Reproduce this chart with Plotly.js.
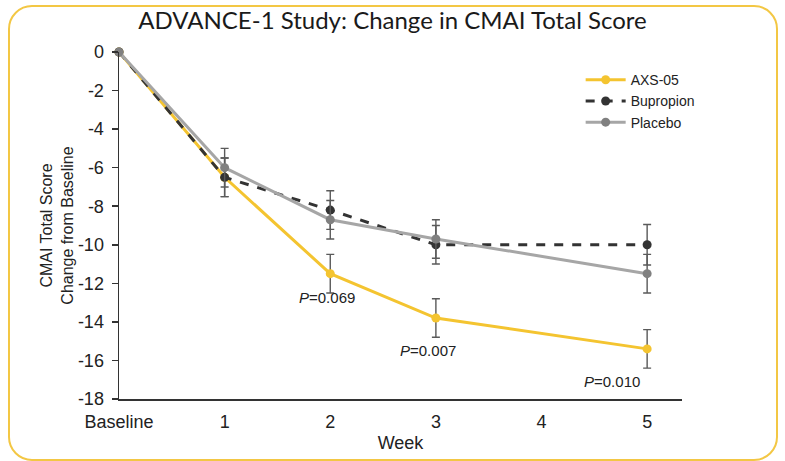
<!DOCTYPE html>
<html>
<head>
<meta charset="utf-8">
<script src="https://cdn.plot.ly/plotly-3.0.1.min.js"></script>
<style>
  html, body { margin: 0; padding: 0; background: #ffffff; }
  #wrap { position: relative; width: 785px; height: 461px; overflow: hidden; }
  #chart { width: 785px; height: 461px; }
  #frame { position: absolute; left: 8px; top: 5px; width: 770px; height: 456px;
           border: 2.5px solid #F3C744; border-radius: 24px; pointer-events: none; box-sizing: border-box; }
</style>
</head>
<body>
<div id="wrap">
  <div id="chart"></div>
  <div id="frame"></div>
</div>
<script>
// ---- data ----
const weeks = [0, 1, 2, 3, 5];
const tickVals = [0, 1, 2, 3, 4, 5];
const tickLabels = ["Baseline", "1", "2", "3", "4", "5"];
const yTickVals = [0, -2, -4, -6, -8, -10, -12, -14, -16, -18];
const yTickLabels = ["0", "-2", "-4", "-6", "-8", "-10", "-12", "-14", "-16", "-18"];

const axs05 = [0, -6.5, -11.5, -13.8, -15.4];
const axs05Err = [0, 1.0, 1.0, 1.0, 1.0];

const bupropion = [0, -6.5, -8.2, -10.0, -10.0];
const bupropionErr = [0, 1.0, 1.0, 1.0, 1.05];

const placebo = [0, -6.0, -8.7, -9.7, -11.5];
const placeboErr = [0, 1.0, 1.0, 1.0, 1.0];

const pLabels = ["<i>P</i>=0.069", "<i>P</i>=0.007", "<i>P</i>=0.010"];
const pX = [1.97, 2.93, 4.67];
const pY = [-12.75, -15.5, -17.1];

const FONT = "'Liberation Sans', Arial, sans-serif";
const errStyle = (arr) => ({ type: "data", array: arr, visible: true, color: "#5a5a5a", thickness: 1.4, width: 4 });

const traces = [
  { name: "AXS-05", x: weeks, y: axs05, error_y: errStyle(axs05Err), type: "scatter", mode: "lines+markers",
    line: { color: "#F4C430", width: 3 }, marker: { color: "#F4C430", size: 9 }, cliponaxis: false },
  { name: "Bupropion", x: weeks, y: bupropion, error_y: errStyle(bupropionErr), type: "scatter", mode: "lines+markers",
    line: { color: "#333333", width: 3, dash: "dash" }, marker: { color: "#333333", size: 9 }, cliponaxis: false },
  { name: "Placebo", x: weeks, y: placebo, error_y: errStyle(placeboErr), type: "scatter", mode: "lines+markers",
    line: { color: "#A6A6A6", width: 3 }, marker: { color: "#808080", size: 9 }, cliponaxis: false }
];

const annotations = pLabels.map((t, i) => ({
  x: pX[i], y: pY[i], xref: "x", yref: "y", text: t, showarrow: false,
  font: { family: FONT, size: 15, color: "#222222" }
}));

const layout = {
  width: 785, height: 461,
  margin: { l: 119, r: 103, t: 52, b: 62 },
  paper_bgcolor: "#ffffff", plot_bgcolor: "#ffffff",
  font: { family: FONT, size: 17, color: "#222222" },
  title: { text: "ADVANCE-1 Study: Change in CMAI Total Score", x: 0.5, xanchor: "center", y: 0.955, yanchor: "middle",
           font: { family: "Lato, sans-serif", size: 24, color: "#1a1a1a" } },
  xaxis: {
    range: [0, 5.33], tickmode: "array", tickvals: tickVals, ticktext: tickLabels,
    showgrid: false, zeroline: false, showline: true, linecolor: "#333333", linewidth: 1.5,
    ticks: "", ticklabelstandoff: 6, tickfont: { family: FONT, size: 18 },
    title: { text: "Week", font: { family: FONT, size: 18 }, standoff: 5 }
  },
  yaxis: {
    range: [-18, 0], tickmode: "array", tickvals: yTickVals, ticktext: yTickLabels,
    showgrid: false, zeroline: false, showline: true, linecolor: "#333333", linewidth: 1.5,
    ticks: "outside", ticklen: 6, tickcolor: "#333333", tickwidth: 1.5, ticklabelstandoff: 4,
    tickfont: { family: FONT, size: 18 },
    title: { text: "CMAI Total Score<br>Change from Baseline", font: { family: FONT, size: 16 }, standoff: 0 }
  },
  legend: { x: 0.82, y: 0.965, xanchor: "left", yanchor: "top", bgcolor: "rgba(0,0,0,0)",
            font: { family: FONT, size: 14 }, itemwidth: 40, tracegroupgap: 4 },
  showlegend: true,
  annotations: annotations
};

Plotly.newPlot("chart", traces, layout, { displayModeBar: false, staticPlot: true });
</script>
</body>
</html>
